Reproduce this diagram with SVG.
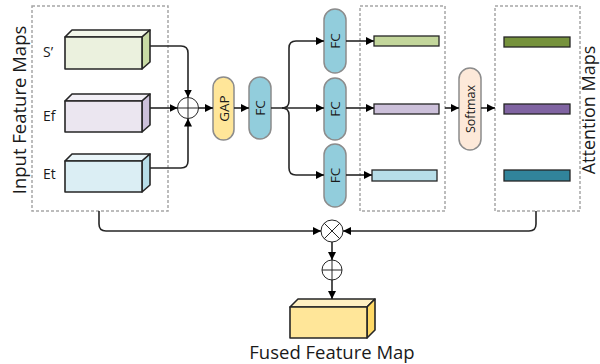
<svg xmlns="http://www.w3.org/2000/svg" width="600" height="364" viewBox="0 0 600 364">
<defs>
<marker id="ah" viewBox="0 0 10 10" refX="10" refY="5" markerWidth="8" markerHeight="8" markerUnits="userSpaceOnUse" orient="auto"><path d="M0,0 L10,5 L0,10 z" fill="#000"/></marker>
<style>
.dash{fill:none;stroke:#a6a6a6;stroke-width:1.5;stroke-dasharray:3 2}
.edge{fill:none;stroke:#262626;stroke-width:1.6;marker-end:url(#ah)}
.box{stroke:#262626;stroke-width:1.6;stroke-linejoin:round}
.pill{stroke:#8c8c8c;stroke-width:1.5}
.bar{stroke:#262626;stroke-width:1.3}
.op{fill:#fff;stroke:#262626;stroke-width:1}
.t{font-family:"Open Sans","Noto Sans",sans-serif;fill:#1a1a1a}
</style>
</defs>
<rect class="dash" x="32" y="6" width="136" height="205"/>
<rect class="dash" x="360" y="6" width="85" height="205"/>
<rect class="dash" x="495" y="6" width="85" height="205"/>
<text class="t" font-size="18.5" text-anchor="middle" transform="translate(26,110) rotate(-90)">Input Feature Maps</text>
<text class="t" font-size="18" text-anchor="middle" transform="translate(595,110) rotate(-90)">Attention Maps</text>
<g id="s">
<polygon class="box" fill="#f3f7ea" points="65,37 72,30 150,30 142,37"/>
<polygon class="box" fill="#c9dba5" points="142,37 150,30 150,62 142,69"/>
<rect class="box" fill="#ebf1de" x="65" y="37" width="77" height="32"/>
<text class="t" font-size="14" x="43" y="57">S’</text>
</g>
<g id="ef">
<polygon class="box" fill="#f2eff6" points="65,101 72,94 150,94 142,101"/>
<polygon class="box" fill="#ccc0da" points="142,101 150,94 150,125 142,132"/>
<rect class="box" fill="#ebe6f0" x="65" y="101" width="77" height="31"/>
<text class="t" font-size="14" x="43" y="121">Ef</text>
</g>
<g id="et">
<polygon class="box" fill="#e9f5f9" points="65,161 72,154 150,154 142,161"/>
<polygon class="box" fill="#b7dee8" points="142,161 150,154 150,185 142,192"/>
<rect class="box" fill="#dbeef4" x="65" y="161" width="77" height="31"/>
<text class="t" font-size="14" x="43" y="179">Et</text>
</g>
<g id="plus1">
<circle class="op" cx="188" cy="108" r="10.5"/>
<path d="M177.5,108 H198.5 M188,97.5 V118.5" stroke="#262626" stroke-width="1"/>
</g>
<g id="gap">
<rect class="pill" fill="#ffe699" x="213" y="77" width="21" height="63" rx="10.5"/>
<text class="t" font-size="13.5" text-anchor="middle" transform="translate(228.5,108.5) rotate(-90)">GAP</text>
</g>
<g id="fc0">
<rect class="pill" fill="#92cddc" x="249" y="77" width="22" height="62" rx="11"/>
<text class="t" font-size="13.5" text-anchor="middle" transform="translate(264.8,108) rotate(-90)">FC</text>
</g>
<g id="fc1">
<rect class="pill" fill="#92cddc" x="324" y="9" width="22" height="64" rx="11"/>
<text class="t" font-size="13.5" text-anchor="middle" transform="translate(339.8,41) rotate(-90)">FC</text>
</g>
<g id="fc2">
<rect class="pill" fill="#92cddc" x="324" y="78" width="22" height="62" rx="11"/>
<text class="t" font-size="13.5" text-anchor="middle" transform="translate(339.8,109) rotate(-90)">FC</text>
</g>
<g id="fc3">
<rect class="pill" fill="#92cddc" x="324" y="144" width="22" height="63" rx="11"/>
<text class="t" font-size="13.5" text-anchor="middle" transform="translate(339.8,175.5) rotate(-90)">FC</text>
</g>
<g id="v1"><rect class="bar" fill="#c3d69b" x="374" y="36" width="65" height="10"/></g>
<g id="v2"><rect class="bar" fill="#ccc0da" x="374" y="104" width="65" height="10"/></g>
<g id="v3"><rect class="bar" fill="#b7dee8" x="372" y="170" width="65" height="11"/></g>
<g id="softmax">
<rect class="pill" fill="#fde9d9" x="459" y="68" width="22" height="82" rx="11"/>
<text class="t" font-size="12.5" text-anchor="middle" transform="translate(474.5,109) rotate(-90)">Softmax</text>
</g>
<g id="a1"><rect class="bar" fill="#76923c" x="504" y="37" width="66" height="10"/></g>
<g id="a2"><rect class="bar" fill="#8064a2" x="504" y="104" width="66" height="10"/></g>
<g id="a3"><rect class="bar" fill="#31849b" x="504" y="170" width="66" height="11"/></g>
<g id="mul">
<circle class="op" cx="332" cy="231" r="11"/>
<path d="M324.2,223.2 L339.8,238.8 M339.8,223.2 L324.2,238.8" stroke="#262626" stroke-width="1"/>
</g>
<g id="plus2">
<circle class="op" cx="332" cy="270" r="10"/>
<path d="M322,270 H342 M332,260 V280" stroke="#262626" stroke-width="1"/>
</g>
<g id="fused">
<polygon class="box" fill="#fff0c2" points="290,307 298,299 375,299 367,307"/>
<polygon class="box" fill="#ffd966" points="367,307 375,299 375,330 367,338"/>
<rect class="box" fill="#ffe699" x="290" y="307" width="77" height="31"/>
<text class="t" font-size="18.5" text-anchor="middle" x="332" y="359">Fused Feature Map</text>
</g>
<g id="connectors">
<path class="edge" d="M150,46 H181 Q188,46 188,53 V97.5"/>
<path class="edge" d="M150,108 H177.5"/>
<path class="edge" d="M150,168 H181 Q188,168 188,161 V118.5"/>
<path class="edge" d="M198.5,108 H213"/>
<path class="edge" d="M234,108 H249"/>
<path class="edge" d="M271,108 H324"/>
<path class="edge" d="M282,108 Q289,108 289,101 V48 Q289,41 296,41 H324"/>
<path class="edge" d="M282,108 Q289,108 289,115 V168 Q289,175 296,175 H324"/>
<path class="edge" d="M346,41 H374"/>
<path class="edge" d="M346,108 H374"/>
<path class="edge" d="M346,175 H372"/>
<path class="edge" d="M445,108 H459"/>
<path class="edge" d="M481,108 H495"/>
<path class="edge" d="M99,211 V224 Q99,231 106,231 H321"/>
<path class="edge" d="M536,211 V224 Q536,231 529,231 H343"/>
<path class="edge" d="M332,242 V260"/>
<path class="edge" d="M332,280 V299"/>
</g>
</svg>
